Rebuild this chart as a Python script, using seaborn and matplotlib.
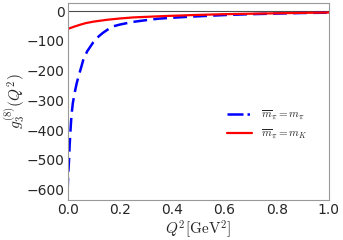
import numpy as np
import pandas as pd
import matplotlib
matplotlib.use("Agg")
import matplotlib.pyplot as plt
import seaborn as sns

# values
q2_blue = [0.0, 0.0025, 0.0057, 0.008, 0.012, 0.015, 0.020, 0.027, 0.035, 0.045,
           0.053, 0.060, 0.075, 0.098, 0.12, 0.135, 0.16, 0.17, 0.20, 0.25,
           0.31, 0.35, 0.40, 0.48, 0.60, 0.70, 0.80, 0.90, 1.0]
g3_blue = [-607, -550, -500, -450, -389, -350, -310, -275, -242, -210,
           -186, -164, -135, -105, -84, -73, -58, -52, -45, -36,
           -29, -25, -22, -18, -13, -10, -8, -6, -5]

q2_red = [0.0, 0.025, 0.05, 0.07, 0.10, 0.15, 0.20, 0.25, 0.30, 0.38,
          0.48, 0.60, 0.70, 0.80, 0.90, 1.0]
g3_red = [-60, -52, -45, -40, -35, -29, -24.5, -21, -19, -16,
          -13, -10, -8.5, -7, -5.5, -4.5]

df_blue = pd.DataFrame({"q2": q2_blue, "g3": g3_blue})
df_red = pd.DataFrame({"q2": q2_red, "g3": g3_red})

sns.set_style("white", {"axes.edgecolor": "0.6"})
plt.rcParams["mathtext.fontset"] = "cm"
plt.rcParams["font.family"] = ["DejaVu Sans"]

fig = plt.figure(figsize=(3.43, 2.40), dpi=100)
ax = fig.add_axes([0.197, 0.167, 0.762, 0.821])

ax.axhline(0, color="0.3", lw=0.8)
sns.lineplot(data=df_blue, x="q2", y="g3", ax=ax, color="blue", lw=1.8,
             label=r"$\overline{m}_\pi = m_\pi$")
ax.lines[-1].set_dashes([5.5, 2.5])
sns.lineplot(data=df_red, x="q2", y="g3", ax=ax, color="red", lw=1.6,
             label=r"$\overline{m}_\pi = m_K$")

ax.set_xlim(0, 1)
ax.set_ylim(-635, 28)
ax.set_xticks([0.0, 0.2, 0.4, 0.6, 0.8, 1.0])
ax.set_yticks([0, -100, -200, -300, -400, -500, -600])
ax.tick_params(labelsize=10, length=0, pad=2)
ax.set_xlabel(r"$Q^2[\mathrm{GeV}^2]$", fontsize=11, labelpad=1)
ax.set_ylabel(r"$g_3^{(8)}(Q^2)$", fontsize=11, labelpad=0)

leg = ax.legend(loc="center right", bbox_to_anchor=(0.955, 0.38), frameon=False,
                fontsize=8, handlelength=2.2, labelspacing=0.5)
leg.get_lines()[0].set_linestyle("-.")

fig.savefig("out.png", dpi=100)
